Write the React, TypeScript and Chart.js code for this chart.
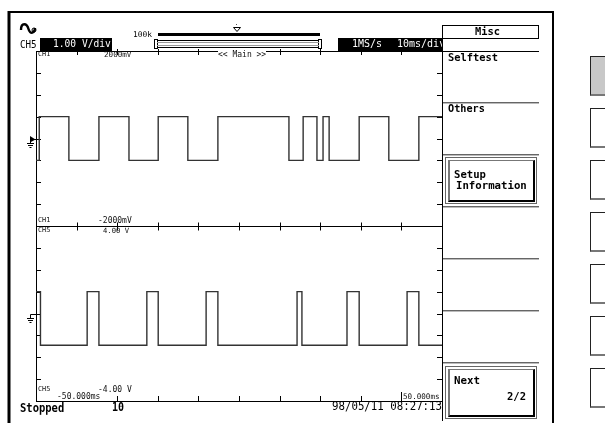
import React, { useEffect, useRef } from "react";
import { Chart, registerables } from "chart.js";
Chart.register(...registerables);

// time axis (ms), 10 ms/div
const timeTicks = [-50, -40, -30, -20, -10, 0, 10, 20, 30, 40, 50];
// CH1 trace: transition times (ms) and level after each time (V), 500 mV/div, upper half
const ch1Times = [-50, -49.2, -41.9, -34.5, -27.1, -19.9, -12.6, -5.2, 12.3, 15.8, 19.2, 20.7, 22.2, 29.6, 36.9, 44.3, 50];
const ch1Levels = [-0.5, 0.5, -0.5, 0.5, -0.5, 0.5, -0.5, 0.5, -0.5, 0.5, -0.5, 0.5, -0.5, 0.5, -0.5, 0.5, 0.5];
// CH5 trace: 1 V/div, lower half
const ch5Times = [-50, -48.9, -37.4, -34.5, -22.7, -19.9, -8.1, -5.2, 14.3, 15.5, 26.6, 29.6, 41.4, 44.3, 50];
const ch5Levels = [1.0, -1.45, 1.0, -1.45, 1.0, -1.45, 1.0, -1.45, 1.0, -1.45, 1.0, -1.45, 1.0, -1.45, -1.45];
// vertical ranges: CH1 shown as -2000mV..2000mV in the upper half, CH5 -4.00V..4.00V in the lower half
const ch1Range = [-6, 2];
const ch5Range = [-4, 12];
const ch5Divisions = [-4, -3, -2, -1, 0, 1, 2, 3, 4, 5, 6, 7, 8, 9, 10, 11, 12];

const MONO = '"DejaVu Sans Mono", "Liberation Mono", monospace';

function T(props: { x: number; y: number; s: number; text: string; bold?: boolean; color?: string; sy?: number; bg?: string }) {
  const { x, y, s, text, bold, color = "#000", sy = 1, bg } = props;
  return (
    <div
      style={{
        position: "absolute",
        left: x,
        top: y - 0.12 * s * sy,
        fontFamily: MONO,
        fontSize: s,
        lineHeight: `${s}px`,
        height: s,
        fontWeight: bold ? "bold" : "normal",
        color,
        whiteSpace: "pre",
        transform: `scaleY(${sy}) translateZ(0)`,
        transformOrigin: "0 0",
        willChange: "transform",
        background: bg,
      }}
    >
      {text}
    </div>
  );
}

const scopePlugin = {
  id: "scopeFrame",
  beforeDatasetsDraw(chart: any) {
    const { ctx, chartArea } = chart;
    const { left, right, top, bottom } = chartArea;
    const xs = chart.scales.x;
    const y1 = chart.scales.y1;
    const y5 = chart.scales.y5;
    const r = (v: number) => Math.round(v) + 0.5;
    ctx.save();
    ctx.strokeStyle = "#000";
    ctx.lineWidth = 1;
    const mid = r(y5.getPixelForValue(4));
    ctx.beginPath();
    ctx.moveTo(left, r(top));
    ctx.lineTo(right, r(top));
    ctx.moveTo(left, r(bottom));
    ctx.lineTo(right, r(bottom));
    ctx.moveTo(left, mid);
    ctx.lineTo(right, mid);
    ctx.moveTo(r(left), top);
    ctx.lineTo(r(left), bottom);
    ctx.stroke();
    ctx.beginPath();
    timeTicks.forEach((t) => {
      if (t === -50 || t === 50) return;
      const px = r(xs.getPixelForValue(t));
      if (t !== 0) {
        ctx.moveTo(px, top - 2);
        ctx.lineTo(px, top + 4);
      }
      ctx.moveTo(px, mid - 4);
      ctx.lineTo(px, mid + 4);
      ctx.moveTo(px, bottom - 5);
      ctx.lineTo(px, bottom);
    });
    ch5Divisions.forEach((v) => {
      const py = r(y5.getPixelForValue(v));
      ctx.moveTo(left, py);
      ctx.lineTo(left + 5, py);
      ctx.moveTo(right - 5, py);
      ctx.lineTo(right, py);
    });
    ctx.stroke();
    // ground markers
    const ground = (y0: number, arrow: boolean) => {
      const gx = left - 5.5;
      ctx.beginPath();
      ctx.moveTo(gx, y0);
      ctx.lineTo(gx, y0 + 4);
      ctx.moveTo(gx - 3.5, y0 + 4);
      ctx.lineTo(gx + 3.5, y0 + 4);
      ctx.moveTo(gx - 2.5, y0 + 6);
      ctx.lineTo(gx + 2.5, y0 + 6);
      ctx.moveTo(gx - 1, y0 + 8);
      ctx.lineTo(gx + 1, y0 + 8);
      ctx.moveTo(gx, y0);
      ctx.lineTo(left, y0);
      ctx.stroke();
      if (arrow) {
        ctx.fillStyle = "#000";
        ctx.beginPath();
        ctx.moveTo(gx - 0.5, y0 - 3.5);
        ctx.lineTo(left - 0.5, y0);
        ctx.lineTo(gx - 0.5, y0 + 3);
        ctx.closePath();
        ctx.fill();
      }
    };
    ground(r(y1.getPixelForValue(0)), true);
    ground(r(y5.getPixelForValue(0)), false);
    ctx.restore();
  },
};

export default function App() {
  const ref = useRef<HTMLCanvasElement>(null);
  useEffect(() => {
    if (!ref.current) return;
    const chart = new Chart(ref.current, {
      type: "line",
      data: {
        datasets: [
          {
            label: "CH1",
            data: ch1Times.map((t, i) => ({ x: t, y: ch1Levels[i] })),
            yAxisID: "y1",
            stepped: "before",
            borderColor: "#333",
            borderWidth: 1.4,
            pointRadius: 0,
            fill: false,
          },
          {
            label: "CH5",
            data: ch5Times.map((t, i) => ({ x: t, y: ch5Levels[i] })),
            yAxisID: "y5",
            stepped: "before",
            borderColor: "#333",
            borderWidth: 1.4,
            pointRadius: 0,
            fill: false,
          },
        ],
      },
      options: {
        animation: false,
        responsive: true,
        maintainAspectRatio: false,
        events: [],
        layout: { padding: { left: 36, top: 51, right: 163, bottom: 22 } },
        plugins: { legend: { display: false }, tooltip: { enabled: false } },
        scales: {
          x: { type: "linear", min: timeTicks[0], max: timeTicks[timeTicks.length - 1], display: false },
          y1: { type: "linear", min: ch1Range[0], max: ch1Range[1], display: false },
          y5: { type: "linear", min: ch5Range[0], max: ch5Range[1], display: false },
        },
      },
      plugins: [scopePlugin],
    } as any);
    return () => chart.destroy();
  }, []);

  const seps = [102, 154, 206, 258, 310, 362];
  const sideButtons = [56, 108, 160, 212, 264, 316, 368];

  return (
    <div style={{ position: "fixed", left: 0, top: 0, width: 605, height: 423, background: "#fff", overflow: "hidden" }}>
      <div style={{ position: "absolute", left: 0, top: 0, width: 605, height: 423 }}>
        <canvas ref={ref} />
      </div>
      <svg width={605} height={423} style={{ position: "absolute", left: 0, top: 0, pointerEvents: "none" }}>
        {/* outer frame */}
        <line x1={9} y1={11} x2={9} y2={423} stroke="#000" strokeWidth={3} />
        <line x1={8} y1={12} x2={554} y2={12} stroke="#000" strokeWidth={2} />
        <line x1={553} y1={11} x2={553} y2={423} stroke="#000" strokeWidth={2} />
        {/* wave icon */}
        <path d="M21 30 C21 22 27 23 28.5 29 C30 35 35 33 35 28" stroke="#000" strokeWidth={2.4} fill="none" />
        <circle cx={34} cy={30} r={2} stroke="#000" strokeWidth={1} fill="none" />
        {/* zoom bar */}
        <rect x={158} y={33} width={162} height={3} fill="#000" />
        <polygon points="233.5,27.5 240.5,27.5 237,31.5" stroke="#000" strokeWidth={1} fill="#fff" />
        <rect x={236} y={24} width={1} height={1} fill="#555" />
        <rect x={154.5} y={39.5} width={3} height={9} stroke="#000" strokeWidth={1} fill="#fff" />
        <rect x={318.5} y={39.5} width={3} height={9} stroke="#000" strokeWidth={1} fill="#fff" />
        <line x1={157} y1={40.5} x2={319} y2={40.5} stroke="#000" strokeWidth={1} />
        <line x1={157} y1={42.5} x2={319} y2={42.5} stroke="#999" strokeWidth={1} />
        <line x1={157} y1={45.5} x2={319} y2={45.5} stroke="#999" strokeWidth={1} />
        <line x1={157} y1={47.5} x2={319} y2={47.5} stroke="#000" strokeWidth={1} />
        {/* menu frame */}
        <line x1={442.5} y1={25} x2={442.5} y2={421} stroke="#000" strokeWidth={1} />
        <line x1={442} y1={51.5} x2={539} y2={51.5} stroke="#000" strokeWidth={1} />
        {seps.map((y) => (
          <g key={y}>
            <line x1={443} y1={y + 0.5} x2={539} y2={y + 0.5} stroke="#666" strokeWidth={1} />
            <line x1={443} y1={y + 1.5} x2={539} y2={y + 1.5} stroke="#bbb" strokeWidth={1} />
          </g>
        ))}
        {/* 50.000ms marker bar */}
        <line x1={401.5} y1={392} x2={401.5} y2={400} stroke="#000" strokeWidth={1} />
      </svg>

      {/* black header boxes */}
      <div style={{ position: "absolute", left: 40, top: 38, width: 72, height: 13, background: "#000", overflow: "hidden" }}>
        <T x={13} y={2} s={9.6} text="1.00 V/div" color="#fff" />
      </div>
      <div style={{ position: "absolute", left: 338, top: 38, width: 104, height: 13, background: "#000", overflow: "hidden" }}>
        <T x={14} y={2} s={10} text="1MS/s" color="#fff" />
        <T x={59} y={2} s={10} text="10ms/div" color="#fff" />
      </div>
      <T x={20} y={39} s={9.2} sy={1.2} text="CH5" />
      <T x={133} y={32} s={7.9} text="100k" />

      {/* Misc title */}
      <div style={{ position: "absolute", left: 442, top: 25, width: 95, height: 12, border: "1px solid #000", background: "#fff" }} />
      <T x={475} y={27} s={10.4} bold text="Misc" />
      <T x={448} y={53} s={10.4} bold sy={1.05} text="Selftest" />
      <T x={448} y={105} s={10.2} bold sy={1.05} text="Others" />

      {/* Setup Information button */}
      <div style={{ position: "absolute", left: 445, top: 157, width: 90, height: 45, border: "1px solid #666", background: "#fff" }}>
        <div style={{ position: "absolute", left: 2, top: 2, right: 1, bottom: 1, borderTop: "1px solid #777", borderLeft: "2px solid #777", borderRight: "2px solid #000", borderBottom: "2px solid #000" }} />
      </div>
      <T x={454} y={170} s={10.6} bold text="Setup" />
      <T x={456} y={182} s={10.7} bold text="Information" />

      {/* Next button */}
      <div style={{ position: "absolute", left: 445, top: 366, width: 90, height: 51, border: "1px solid #666", background: "#fff" }}>
        <div style={{ position: "absolute", left: 2, top: 2, right: 1, bottom: 1, borderTop: "1px solid #777", borderLeft: "2px solid #777", borderRight: "2px solid #000", borderBottom: "2px solid #000" }} />
      </div>
      <T x={454} y={377} s={10.8} bold text="Next" />
      <T x={507} y={392} s={10.5} bold text="2/2" />

      {/* right side keys */}
      {sideButtons.map((y, i) => (
        <div
          key={y}
          style={{
            position: "absolute",
            left: 590,
            top: y,
            width: 20,
            height: 37,
            borderTop: "1px solid #222",
            borderLeft: "1px solid #222",
            borderBottom: "2px solid #777",
            background: i === 0 ? "#c8c8c8" : "#fff",
          }}
        />
      ))}

      {/* in-plot labels */}
      <T x={38} y={52} s={6.8} text="CH1" color="#111" />
      <T x={104} y={52} s={7.6} text="2000mV" color="#111" />
      <T x={218} y={52} s={8} text="<< Main >>" color="#111" bg="#fff" />
      <T x={38} y={218} s={6.8} text="CH1" color="#111" />
      <T x={98} y={218} s={8} text="-2000mV" color="#111" />
      <T x={38} y={228} s={6.8} text="CH5" color="#111" />
      <T x={103} y={228} s={7.2} text="4.00 V" color="#111" />
      <T x={38} y={387} s={6.8} text="CH5" color="#111" />
      <T x={98} y={387} s={8} text="-4.00 V" color="#111" />
      <T x={57} y={394} s={8} text="-50.000ms" color="#111" bg="#fff" />
      <T x={403} y={394} s={7.6} text="50.000ms" color="#111" />

      {/* status line */}
      <T x={20} y={403} s={10.5} bold sy={1.2} text="Stopped" />
      <T x={112} y={403} s={10} bold sy={1.15} text="10" />
      <T x={332} y={402} s={10.75} sy={1.15} text="98/05/11 08:27:13" />
    </div>
  );
}
